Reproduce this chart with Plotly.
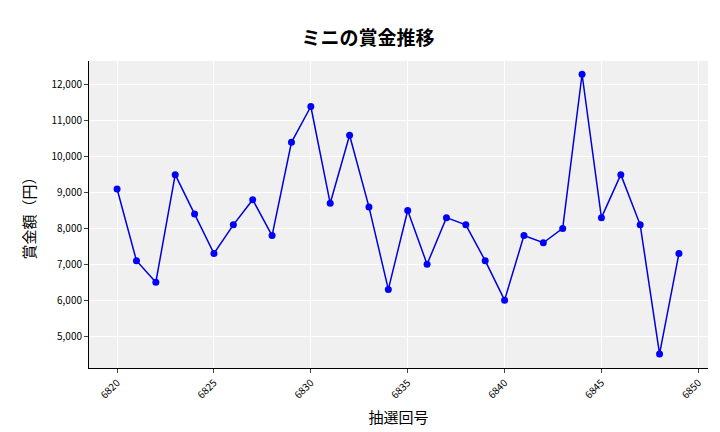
import plotly.graph_objects as go

draws = list(range(6820, 6850))
prizes = [9100, 7100, 6500, 9500, 8400, 7300, 8100, 8800, 7800, 10400,
          11400, 8700, 10600, 8600, 6300, 8500, 7000, 8300, 8100, 7100,
          6000, 7800, 7600, 8000, 12300, 8300, 9500, 8100, 4500, 7300]

F = "Noto Sans CJK JP"
fig = go.Figure(go.Scatter(x=draws, y=prizes, mode="lines+markers",
                           line=dict(color="#0000dd", width=1.5),
                           marker=dict(color="#0000ff", size=7)))
fig.update_layout(
    width=720, height=432, margin=dict(l=81, r=20, t=53, b=72, autoexpand=False),
    paper_bgcolor="white", plot_bgcolor="#f0f0f0",
    title=dict(text="<b>ミニの賞金推移</b>", x=0.5, xanchor="center", y=0.945,
               font=dict(family=F, size=19, color="black")),
    font=dict(family=F, color="black"), showlegend=False,
)
fig.update_xaxes(range=[6818.55, 6850.5], tickvals=list(range(6820, 6851, 5)),
                 tickangle=-45, tickfont=dict(size=10), gridcolor="white",
                 showline=True, linecolor="black", ticks="outside", ticklen=4,
                 automargin=False,
                 title=dict(text="抽選回号", font=dict(size=15), standoff=12), zeroline=False)
fig.update_yaxes(range=[4108, 12669], tickvals=list(range(5000, 12001, 1000)),
                 tickformat=",", tickfont=dict(size=10), gridcolor="white",
                 showline=True, linecolor="black", ticks="outside", ticklen=4,
                 automargin=False,
                 title=dict(text="賞金額（円）", font=dict(size=15), standoff=12), zeroline=False)
fig.write_html("out.html")
